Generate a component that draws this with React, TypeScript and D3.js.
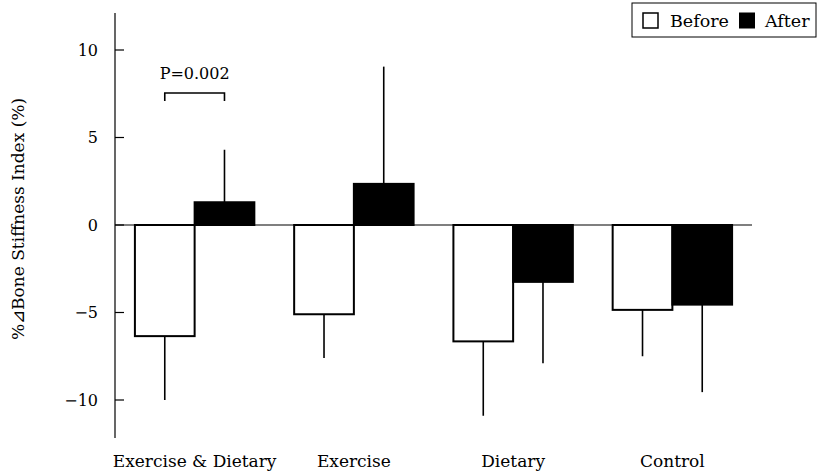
import { useRef, useEffect } from "react";
import * as d3 from "d3";

const groups = ["Exercise & Dietary", "Exercise", "Dietary", "Control"];
const series = ["Before", "After"];
const beforeValues = [-6.35, -5.1, -6.65, -4.85];
const beforeErrors = [-10.0, -7.6, -10.9, -7.5];
const afterValues = [1.3, 2.35, -3.25, -4.55];
const afterErrors = [4.3, 9.05, -7.9, -9.55];
const yTicks = [10, 5, 0, -5, -10];

export default function App() {
  const svgRef = useRef<SVGSVGElement>(null);

  useEffect(() => {
    if (!svgRef.current) return;
    const svg = d3.select(svgRef.current);
    svg.selectAll("*").remove();

    const font = "DejaVu Serif";

    const x0 = d3.scaleBand().domain(groups).range([115, 752]).paddingInner(0.25).paddingOuter(0.125);
    const x1 = d3.scaleBand().domain(series).range([0, x0.bandwidth()]);
    const y = d3.scaleLinear().domain([0, 10]).range([225, 50]);

    const rows = groups.map((g, i) => [
      { g, s: "Before", v: beforeValues[i], e: beforeErrors[i] },
      { g, s: "After", v: afterValues[i], e: afterErrors[i] },
    ]).flat();

    // Error bars (drawn first, bars cover the base)
    svg.append("g")
      .selectAll("line")
      .data(rows)
      .join("line")
      .attr("x1", (d) => x0(d.g)! + x1(d.s)! + x1.bandwidth() / 2)
      .attr("x2", (d) => x0(d.g)! + x1(d.s)! + x1.bandwidth() / 2)
      .attr("y1", (d) => y(d.v))
      .attr("y2", (d) => y(d.e))
      .attr("stroke", "#000")
      .attr("stroke-width", 1.6);

    // Bars
    svg.append("g")
      .selectAll("rect")
      .data(rows)
      .join("rect")
      .attr("x", (d) => x0(d.g)! + x1(d.s)!)
      .attr("y", (d) => y(Math.max(0, d.v)))
      .attr("width", x1.bandwidth())
      .attr("height", (d) => Math.abs(y(d.v) - y(0)))
      .attr("fill", (d) => (d.s === "Before" ? "#fff" : "#000"))
      .attr("stroke", "#000")
      .attr("stroke-width", 2);

    // Zero line
    svg.append("line")
      .attr("x1", 115).attr("x2", 752)
      .attr("y1", y(0)).attr("y2", y(0))
      .attr("stroke", "#000").attr("stroke-width", 1.2);

    // Y axis
    svg.append("line")
      .attr("x1", 115).attr("x2", 115)
      .attr("y1", 13).attr("y2", 438)
      .attr("stroke", "#000").attr("stroke-width", 1.2);

    const tick = svg.append("g").selectAll("g").data(yTicks).join("g")
      .attr("transform", (d) => `translate(115,${y(d)})`);
    tick.append("line").attr("x2", 9).attr("stroke", "#000").attr("stroke-width", 1.2);
    tick.append("text")
      .attr("x", -17)
      .attr("dy", "0.35em")
      .attr("text-anchor", "end")
      .style("font-family", font)
      .style("font-size", "16px")
      .text((d) => (d < 0 ? `\u2212${Math.abs(d)}` : `${d}`));

    // Category labels
    svg.append("g").selectAll("text").data(groups).join("text")
      .attr("x", (d) => x0(d)! + x0.bandwidth() / 2)
      .attr("y", 467)
      .attr("text-anchor", "middle")
      .style("font-family", font)
      .style("font-size", "17px")
      .text((d) => d);

    // Y label
    svg.append("text")
      .attr("transform", "rotate(-90)")
      .attr("x", -219)
      .attr("y", 24)
      .attr("text-anchor", "middle")
      .style("font-family", font)
      .style("font-size", "17px")
      .text("%\u22BFBone Stiffness Index (%)");

    // Significance bracket
    const g0 = groups[0];
    const bx1 = x0(g0)! + x1("Before")! + x1.bandwidth() / 2;
    const bx2 = x0(g0)! + x1("After")! + x1.bandwidth() / 2;
    svg.append("path")
      .attr("d", `M${bx1},101 V93 H${bx2} V101`)
      .attr("fill", "none")
      .attr("stroke", "#000")
      .attr("stroke-width", 1.6);
    svg.append("text")
      .attr("x", (bx1 + bx2) / 2)
      .attr("y", 79)
      .attr("text-anchor", "middle")
      .style("font-family", font)
      .style("font-size", "16px")
      .text("P=0.002");

    // Legend
    const lg = svg.append("g");
    lg.append("rect")
      .attr("x", 632).attr("y", 3).attr("width", 184).attr("height", 34)
      .attr("fill", "#fff").attr("stroke", "#000").attr("stroke-width", 1);
    lg.append("rect")
      .attr("x", 643).attr("y", 13).attr("width", 15).attr("height", 15)
      .attr("fill", "#fff").attr("stroke", "#000").attr("stroke-width", 1.5);
    lg.append("text")
      .attr("x", 670).attr("y", 27)
      .style("font-family", font).style("font-size", "17.5px")
      .text(series[0]);
    lg.append("rect")
      .attr("x", 739).attr("y", 12.5).attr("width", 16).attr("height", 16)
      .attr("fill", "#000");
    lg.append("text")
      .attr("x", 765).attr("y", 27)
      .style("font-family", font).style("font-size", "17.5px")
      .text(series[1]);
  }, []);

  return (
    <div style={{ position: "absolute", left: 0, top: 0 }}>
      <svg ref={svgRef} width={818} height={473} style={{ display: "block", background: "#fff" }} />
    </div>
  );
}
